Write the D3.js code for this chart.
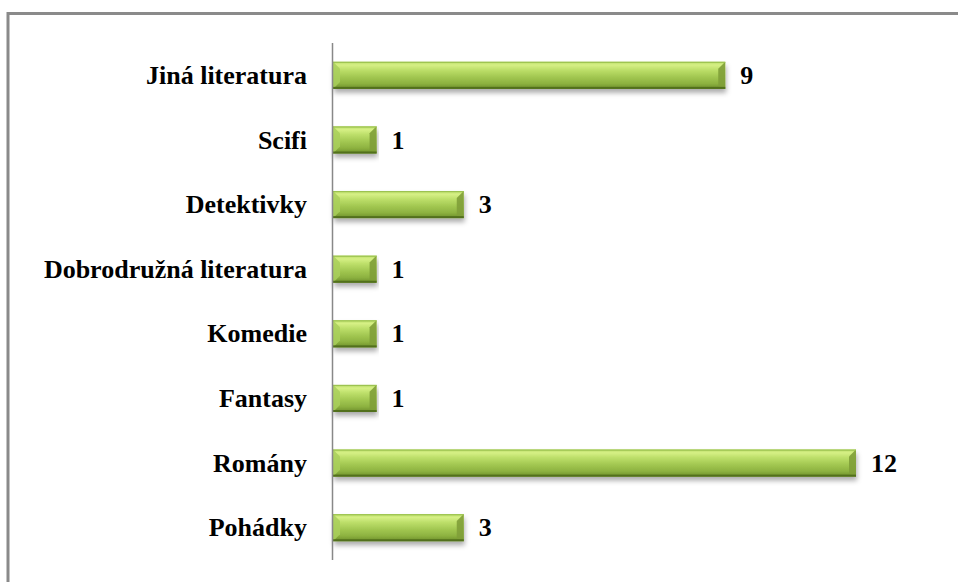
<!DOCTYPE html>
<html><head><meta charset="utf-8">
<script src="https://cdn.jsdelivr.net/npm/d3@7"></script>
<style>html,body{margin:0;padding:0;background:#fff;overflow:hidden}</style>
</head><body>
<svg id="c" width="958" height="582"></svg>
<script>
const categories = ["Jiná literatura","Scifi","Detektivky","Dobrodružná literatura","Komedie","Fantasy","Romány","Pohádky"];
const values = [9,1,3,1,1,1,12,3];

const svg = d3.select("#c");
const defs = svg.append("defs");
const g1 = defs.append("linearGradient").attr("id","gb").attr("x1",0).attr("y1",0).attr("x2",0).attr("y2",1);
[[0,"#b9dc68"],[0.12,"#d6f085"],[0.3,"#bddf6a"],[0.55,"#a3c852"],[0.8,"#8db240"],[1,"#6c8e2a"]].forEach(s=>g1.append("stop").attr("offset",s[0]).attr("stop-color",s[1]));
const f = defs.append("filter").attr("id","sh").attr("x","-5%").attr("y","-30%").attr("width","110%").attr("height","180%");
f.append("feDropShadow").attr("dx",1).attr("dy",4).attr("stdDeviation",2.5).attr("flood-color","#000").attr("flood-opacity",0.32);

// frame
svg.append("rect").attr("x",8).attr("y",13.5).attr("width",1000).attr("height",700)
  .attr("fill","none").attr("stroke","#8a8a8a").attr("stroke-width",3);

const x = d3.scaleLinear().domain([0,12]).range([333,856]);
const y = d3.scaleBand().domain(categories).range([43,560]).paddingInner(0.58).paddingOuter(0.29);

const bars = svg.append("g").selectAll("g").data(categories).join("g");
bars.append("rect").attr("x",x(0)).attr("y",d=>y(d)).attr("width",(d,i)=>x(values[i])-x(0)).attr("height",y.bandwidth())
  .attr("fill","url(#gb)").attr("filter","url(#sh)");
const bv = 7;
bars.append("path").attr("d",(d,i)=>{const x0=x(0),y0=y(d),h=y.bandwidth();return `M${x0},${y0}L${x0+bv},${y0+bv}L${x0+bv},${y0+h-bv}L${x0},${y0+h}Z`;})
  .attr("fill","#a9cf5c").attr("opacity",0.85);
bars.append("path").attr("d",(d,i)=>{const x1=x(values[i]),y0=y(d),h=y.bandwidth();return `M${x1},${y0}L${x1-bv},${y0+bv}L${x1-bv},${y0+h-3}L${x1},${y0+h}Z`;})
  .attr("fill","#7f9f38").attr("opacity",0.9);
bars.append("rect").attr("x",x(0)).attr("y",d=>y(d)+y.bandwidth()-2).attr("width",(d,i)=>x(values[i])-x(0)).attr("height",2)
  .attr("fill","#52701c");
bars.append("rect").attr("x",x(0)).attr("y",d=>y(d)).attr("width",(d,i)=>x(values[i])-x(0)).attr("height",1.2)
  .attr("fill","#9cc250");

svg.append("line").attr("x1",x(0)-0.5).attr("x2",x(0)-0.5).attr("y1",43).attr("y2",560).attr("stroke","#888").attr("stroke-width",1.5);

const font = "'Liberation Serif','Times New Roman',serif";
svg.append("g").selectAll("text").data(categories).join("text")
  .attr("x",307).attr("y",d=>y(d)+y.bandwidth()/2).attr("dy","0.33em").attr("text-anchor","end")
  .attr("font-family",font).attr("font-weight","bold").attr("font-size",26).attr("fill","#000").text(d=>d);
svg.append("g").selectAll("text").data(categories).join("text")
  .attr("x",(d,i)=>x(values[i])+15).attr("y",d=>y(d)+y.bandwidth()/2).attr("dy","0.33em")
  .attr("font-family",font).attr("font-weight","bold").attr("font-size",26).attr("fill","#000").text((d,i)=>values[i]);
</script>
</body></html>
